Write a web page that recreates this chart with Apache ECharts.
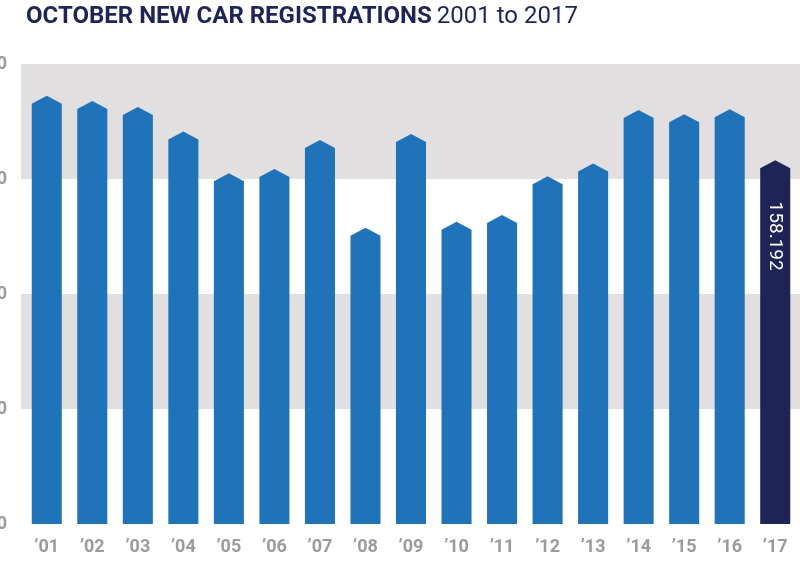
<!DOCTYPE html>
<html>
<head>
<meta charset="utf-8">
<script src="https://cdn.jsdelivr.net/npm/echarts@6/dist/echarts.min.js"></script>
<style>
html,body{margin:0;padding:0;background:#fff;}
#chart{width:800px;height:564px;}
</style>
</head>
<body>
<div id="chart"></div>
<script>
// ---- data ----
const years = ["\u201901","\u201902","\u201903","\u201904","\u201905","\u201906","\u201907","\u201908","\u201909","\u201910","\u201911","\u201912","\u201913","\u201914","\u201915","\u201916","\u201917"];
const registrations = [186200, 183900, 181300, 170600, 152500, 154300, 167000, 128800, 169600, 131400, 134300, 151200, 156700, 180000, 178100, 180300, 158192];
const yTicks = [0, 50000, 100000, 150000, 200000];
const titleMain = "OCTOBER NEW CAR REGISTRATIONS";
const titleSub = "2001 to 2017";

const BLUE = "#2173b9";
const NAVY = "#1e2455";
const highlightIndex = registrations.length - 1;

function fmtDot(v){ return String(v).replace(/\B(?=(\d{3})+(?!\d))/g, "."); }
function fmtComma(v){ return String(v).replace(/\B(?=(\d{3})+(?!\d))/g, ","); }

const chart = echarts.init(document.getElementById('chart'), null, {renderer:'canvas'});

const yMin = yTicks[0], yMax = yTicks[yTicks.length-1], yInt = yTicks[1]-yTicks[0];

chart.setOption({
  animation:false,
  backgroundColor:'#ffffff',
  title:{
    left:21, top:0,
    text:'{b|' + titleMain + '} {r|' + titleSub + '}',
    textStyle:{
      rich:{
        b:{fontFamily:'Roboto', fontWeight:'bold', fontSize:24, color:NAVY},
        r:{fontFamily:'Roboto', fontWeight:'normal', fontSize:24, color:NAVY}
      }
    }
  },
  grid:[
    {left:21, right:0, top:64, bottom:40, containLabel:false, outerBoundsMode:'none'},
    {left:24, right:2, top:64, bottom:40, containLabel:false, outerBoundsMode:'none'}
  ],
  xAxis:[
    {gridIndex:0, type:'category', data:years, show:false},
    {gridIndex:1, type:'category', data:years,
     axisLine:{show:false}, axisTick:{show:false},
     axisLabel:{color:'#9b9b9b', fontFamily:'Roboto', fontWeight:'bold', fontSize:18, margin:14}}
  ],
  yAxis:[
    {gridIndex:0, type:'value', min:yMin, max:yMax, interval:yInt,
     axisLine:{show:false}, axisTick:{show:false}, splitLine:{show:false},
     splitArea:{show:true, areaStyle:{color:['rgba(255,255,255,0)','#e1dfe0']}},
     axisLabel:{color:'#9b9b9b', fontFamily:'Roboto', fontWeight:'bold', fontSize:18, margin:14,
       formatter:v=>fmtComma(v)}},
    {gridIndex:1, type:'value', min:yMin, max:yMax, interval:yInt, show:false,
     splitLine:{show:false}}
  ],
  series:[
    {type:'custom', xAxisIndex:1, yAxisIndex:1, data:registrations.map((v,i)=>[i,v]),
     renderItem:function(params, api){
       const i = api.value(0), v = api.value(1);
       const top = api.coord([i, v]);
       const base = api.coord([i, 0]);
       const w = api.size([1,0])[0]*0.66;
       const h = 8;
       const cx = top[0];
       const color = (params.dataIndex === highlightIndex) ? NAVY : BLUE;
       const children = [{
         type:'polygon',
         shape:{points:[[cx-w/2, base[1]],[cx-w/2, top[1]+h],[cx, top[1]],[cx+w/2, top[1]+h],[cx+w/2, base[1]]]},
         style:{fill:color}
       }];
       if (params.dataIndex === highlightIndex){
         children.push({
           type:'text',
           x:cx, y:top[1]+76,
           rotation:-Math.PI/2,
           style:{text:fmtDot(v), fill:'#ffffff', fontFamily:'Roboto', fontSize:19, fontWeight:'normal',
             align:'center', verticalAlign:'middle'}
         });
       }
       return {type:'group', children:children};
     }
    }
  ]
});
</script>
</body>
</html>
